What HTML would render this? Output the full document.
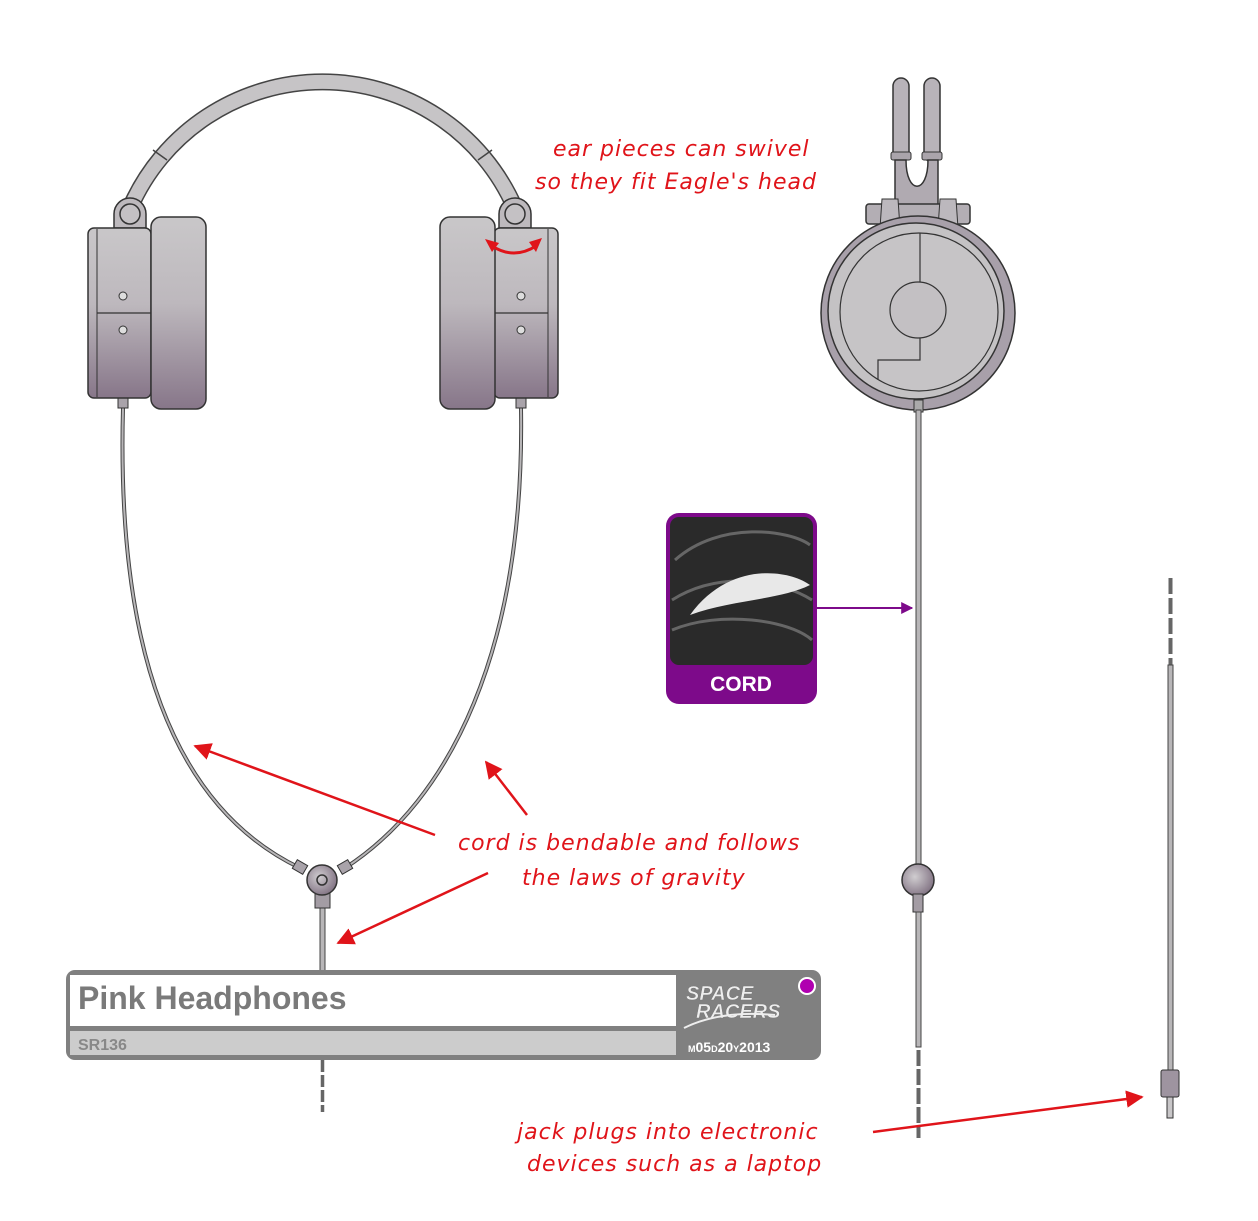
<!DOCTYPE html>
<html><head><meta charset="utf-8"><style>
html,body{margin:0;padding:0;background:#fff}
svg{display:block}
.hw{font-family:"DejaVu Sans","Liberation Sans",sans-serif;font-style:italic;fill:#e0141a;font-size:22px;letter-spacing:1px}
</style></head><body>
<svg width="1258" height="1221" viewBox="0 0 1258 1221" xmlns="http://www.w3.org/2000/svg">
<defs>
<linearGradient id="g" x1="0" y1="0" x2="0" y2="1">
<stop offset="0" stop-color="#c9c7c9"/><stop offset="0.45" stop-color="#bdb8bd"/><stop offset="1" stop-color="#877689"/>
</linearGradient>
<radialGradient id="rg" cx="0.4" cy="0.4" r="0.7"><stop offset="0" stop-color="#d0cdd0"/><stop offset="1" stop-color="#7a6a7c"/></radialGradient>
<marker id="ar" viewBox="0 0 10 10" refX="9" refY="5" markerWidth="7" markerHeight="7" orient="auto"><path d="M0,0L10,5L0,10z" fill="#e0141a"/></marker>
<marker id="ap" viewBox="0 0 10 10" refX="9" refY="5" markerWidth="6" markerHeight="6" orient="auto"><path d="M0,0L10,5L0,10z" fill="#7d0a8a"/></marker>
</defs>

<!-- headband -->
<path d="M130,208 A210,210 0 0 1 515,208" fill="none" stroke="#444" stroke-width="17"/>
<path d="M130,208 A210,210 0 0 1 515,208" fill="none" stroke="#c6c4c6" stroke-width="14"/>
<line x1="153" y1="150" x2="167" y2="160" stroke="#444" stroke-width="1.5"/>
<line x1="492" y1="150" x2="478" y2="160" stroke="#444" stroke-width="1.5"/>

<!-- cords -->
<path d="M123,408 C115,700 200,820 300,868" fill="none" stroke="#444" stroke-width="4"/>
<path d="M123,408 C115,700 200,820 300,868" fill="none" stroke="#b8b6b8" stroke-width="2"/>
<path d="M521,408 C525,650 450,800 345,868" fill="none" stroke="#444" stroke-width="4"/>
<path d="M521,408 C525,650 450,800 345,868" fill="none" stroke="#b8b6b8" stroke-width="2"/>
<rect x="320" y="905" width="5" height="68" fill="#b8b6b8" stroke="#444" stroke-width="1"/>
<line x1="322.5" y1="1060" x2="322.5" y2="1112" stroke="#666" stroke-width="3.5" stroke-dasharray="12,3"/>
<!-- splitter -->
<rect x="294" y="862" width="12" height="10" transform="rotate(30 300 867)" fill="#a9a3aa" stroke="#333"/>
<rect x="339" y="862" width="12" height="10" transform="rotate(-30 345 867)" fill="#a9a3aa" stroke="#333"/>
<rect x="315" y="886" width="15" height="22" fill="#a39ca4" stroke="#333"/>
<circle cx="322" cy="880" r="15" fill="url(#rg)" stroke="#333" stroke-width="1.5"/>
<circle cx="322" cy="880" r="5" fill="none" stroke="#333" stroke-width="1.5"/>

<!-- left ear -->
<rect x="118" y="394" width="10" height="14" fill="#a9a3aa" stroke="#333"/>
<path d="M114,228 L114,214 A16,16 0 0 1 146,214 L146,228 Z" fill="#bdb9bd" stroke="#333" stroke-width="1.5"/>
<circle cx="130" cy="214" r="10" fill="#c4c1c4" stroke="#333" stroke-width="1.5"/>
<rect x="88" y="228" width="63" height="170" rx="6" fill="url(#g)" stroke="#333" stroke-width="1.5"/>
<line x1="97" y1="229" x2="97" y2="397" stroke="#333" stroke-width="1"/>
<line x1="97" y1="313" x2="151" y2="313" stroke="#333" stroke-width="1.2"/>
<circle cx="123" cy="296" r="4" fill="#ddd" stroke="#333"/>
<circle cx="123" cy="330" r="4" fill="#ddd" stroke="#333"/>
<rect x="151" y="217" width="55" height="192" rx="10" fill="url(#g)" stroke="#333" stroke-width="1.5"/>

<!-- right ear -->
<rect x="516" y="394" width="10" height="14" fill="#a9a3aa" stroke="#333"/>
<path d="M499,228 L499,214 A16,16 0 0 1 531,214 L531,228 Z" fill="#bdb9bd" stroke="#333" stroke-width="1.5"/>
<circle cx="515" cy="214" r="10" fill="#c4c1c4" stroke="#333" stroke-width="1.5"/>
<rect x="494" y="228" width="64" height="170" rx="6" fill="url(#g)" stroke="#333" stroke-width="1.5"/>
<line x1="548" y1="229" x2="548" y2="397" stroke="#333" stroke-width="1"/>
<line x1="494" y1="313" x2="548" y2="313" stroke="#333" stroke-width="1.2"/>
<circle cx="521" cy="296" r="4" fill="#ddd" stroke="#333"/>
<circle cx="521" cy="330" r="4" fill="#ddd" stroke="#333"/>
<rect x="440" y="217" width="55" height="192" rx="10" fill="url(#g)" stroke="#333" stroke-width="1.5"/>
<path d="M492,246 Q514,260 536,246" fill="none" stroke="#e0141a" stroke-width="3"/>
<path d="M485,239 L499,243 L492,252 Z" fill="#e0141a"/>
<path d="M542,238 L536,252 L529,242 Z" fill="#e0141a"/>

<!-- side view -->
<rect x="893" y="78" width="16" height="84" rx="8" fill="#b8b3b9" stroke="#333" stroke-width="1.5"/>
<rect x="924" y="78" width="16" height="84" rx="8" fill="#b8b3b9" stroke="#333" stroke-width="1.5"/>
<rect x="891" y="152" width="20" height="8" rx="2" fill="#aaa4ab" stroke="#333"/>
<rect x="922" y="152" width="20" height="8" rx="2" fill="#aaa4ab" stroke="#333"/>
<path d="M895,160 L895,205 L938,205 L938,160 L928,160 C928,195 906,195 906,160 Z" fill="#b0aab1" stroke="#333" stroke-width="1.5"/>
<rect x="866" y="204" width="104" height="20" rx="3" fill="#b3aeb4" stroke="#333" stroke-width="1.5"/>
<path d="M880,228 L882,199 L898,199 L900,228 Z" fill="#bcb8bd" stroke="#333"/>
<path d="M938,228 L940,199 L956,199 L958,228 Z" fill="#bcb8bd" stroke="#333"/>
<circle cx="918" cy="313" r="97" fill="#a8a0aa" stroke="#333" stroke-width="1.5"/>
<circle cx="916" cy="311" r="88" fill="#c4c2c4" stroke="#333" stroke-width="1.5"/>
<circle cx="919" cy="312" r="79" fill="#c6c4c6" stroke="#333" stroke-width="1.2"/>
<line x1="920" y1="233" x2="920" y2="285" stroke="#333" stroke-width="1.2"/>
<circle cx="918" cy="310" r="28" fill="#c3c0c3" stroke="#333" stroke-width="1.2"/>
<path d="M920,338 L920,360 L878,360 L878,380" fill="none" stroke="#333" stroke-width="1.2"/>
<rect x="914" y="400" width="9" height="12" fill="#aaa" stroke="#333"/>
<rect x="916" y="410" width="5" height="460" fill="#b8b6b8" stroke="#444"/>
<circle cx="918" cy="880" r="16" fill="url(#rg)" stroke="#333" stroke-width="1.5"/>
<rect x="913" y="894" width="10" height="18" fill="#a39ca4" stroke="#333"/>
<rect x="916" y="912" width="5" height="135" fill="#b8b6b8" stroke="#444"/>
<line x1="918.5" y1="1050" x2="918.5" y2="1138" stroke="#666" stroke-width="4" stroke-dasharray="16,3"/>

<!-- jack cord -->
<line x1="1170.5" y1="578" x2="1170.5" y2="665" stroke="#666" stroke-width="4" stroke-dasharray="16,4"/>
<rect x="1168" y="665" width="5" height="405" fill="#b8b6b8" stroke="#444"/>
<rect x="1161" y="1070" width="18" height="27" rx="2" fill="#9e94a0" stroke="#333"/>
<rect x="1167" y="1097" width="6" height="21" fill="#c8c6c8" stroke="#333"/>

<!-- cord box -->
<rect x="666" y="513" width="151" height="191" rx="13" fill="#7d0a8a"/>
<rect x="670" y="517" width="143" height="148" rx="9" fill="#2a2a2a"/>
<path d="M675,560 C720,520 790,530 810,545 M672,600 C720,570 780,580 812,600 M672,630 C720,610 790,620 812,640" stroke="#666" stroke-width="3" fill="none"/>
<path d="M690,615 C730,560 790,570 810,585 C780,600 730,600 690,615 Z" fill="#e8e8e8"/>
<text x="741" y="691" font-family="Liberation Sans,sans-serif" font-weight="bold" font-size="21" fill="#fff" text-anchor="middle">CORD</text>
<line x1="817" y1="608" x2="912" y2="608" stroke="#7d0a8a" stroke-width="2" marker-end="url(#ap)"/>

<!-- title block -->
<rect x="66" y="970" width="755" height="90" rx="9" fill="#808080"/>
<rect x="70" y="975" width="606" height="51" fill="#fff"/>
<rect x="70" y="1031" width="606" height="24" fill="#cccccc"/>
<text x="78" y="1009" font-family="Liberation Sans,sans-serif" font-weight="bold" font-size="32" fill="#7a7a7a">Pink Headphones</text>
<text x="78" y="1050" font-family="Liberation Sans,sans-serif" font-weight="bold" font-size="16" fill="#888">SR136</text>
<text x="686" y="1000" font-family="Liberation Sans,sans-serif" font-weight="bold" font-style="italic" font-size="20" fill="#eee" stroke="#777" stroke-width="0.5">SPACE</text>
<text x="696" y="1018" font-family="Liberation Sans,sans-serif" font-weight="bold" font-style="italic" font-size="20" fill="#eee" stroke="#777" stroke-width="0.5">RACERS</text>
<path d="M684,1028 Q720,1010 775,1015" stroke="#eee" stroke-width="2" fill="none"/>
<circle cx="807" cy="986" r="8" fill="#b000b0" stroke="#fff" stroke-width="2"/>
<text x="688" y="1052" font-family="Liberation Sans,sans-serif" font-weight="bold" font-size="14" fill="#fff"><tspan font-size="9">M</tspan>05<tspan font-size="9">D</tspan>20<tspan font-size="9">Y</tspan>2013</text>

<!-- annotations -->
<text class="hw" x="553" y="156">ear pieces can swivel</text>
<text class="hw" x="535" y="189">so they fit Eagle's head</text>
<text class="hw" x="458" y="850">cord is bendable and follows</text>
<text class="hw" x="522" y="885">the laws of gravity</text>
<text class="hw" x="517" y="1139">jack plugs into electronic</text>
<text class="hw" x="527" y="1171">devices such as a laptop</text>
<line x1="435" y1="835" x2="195" y2="746" stroke="#e0141a" stroke-width="2.5" marker-end="url(#ar)"/>
<line x1="527" y1="815" x2="486" y2="762" stroke="#e0141a" stroke-width="2.5" marker-end="url(#ar)"/>
<line x1="488" y1="873" x2="338" y2="943" stroke="#e0141a" stroke-width="2.5" marker-end="url(#ar)"/>
<line x1="873" y1="1132" x2="1142" y2="1097" stroke="#e0141a" stroke-width="2.5" marker-end="url(#ar)"/>
</svg>
</body></html>
